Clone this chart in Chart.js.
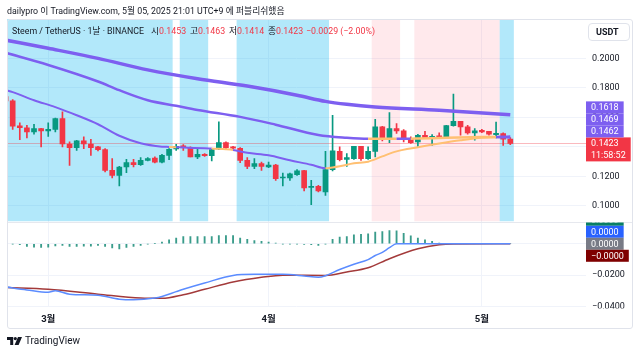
<!DOCTYPE html>
<html lang="ko"><head><meta charset="utf-8">
<script src="https://cdn.jsdelivr.net/npm/chart.js@4.4.1/dist/chart.umd.min.js"></script>
<style>
*{box-sizing:border-box}
html,body{margin:0;padding:0;background:#fff;}
body{width:640px;height:355px;overflow:hidden;position:relative;font-family:Roboto,"Noto Sans CJK KR",sans-serif;color:#131722}
canvas{position:absolute;left:0;top:0}
#frame{position:absolute;left:7px;top:19px;width:626px;height:310px;border:1px solid #e0e3eb;border-radius:3px;pointer-events:none}
#hdr{position:absolute;left:7px;top:5px;font-size:8.8px;line-height:12px;white-space:nowrap}
.lg{position:absolute;top:25px;font-size:8.8px;line-height:12px;white-space:nowrap}
.r{color:#f23645}
#usdt{position:absolute;left:588px;top:23px;width:42px;height:18px;border:1px solid #e0e3eb;border-radius:4px;background:#fff;font-size:9px;font-weight:700;line-height:16px;padding-left:7px}
#logo{position:absolute;left:7px;top:335px;font-size:10px;line-height:12px;display:flex;align-items:center;gap:3px;color:#131722}
</style></head><body>
<canvas id="c" width="640" height="355"></canvas>
<div id="frame"></div>
<div id="hdr">dailypro 이 TradingView.com, 5월 05, 2025 21:01 UTC+9 에 퍼블리쉬했음</div>
<div class="lg" style="left:12px">Steem / TetherUS · 1날 · BINANCE</div>
<div class="lg" id="lgO" style="left:151px"></div>
<div class="lg" id="lgH" style="left:190px"></div>
<div class="lg" id="lgL" style="left:229px"></div>
<div class="lg" id="lgC" style="left:268px"></div>
<div class="lg r" id="lgChg" style="left:306px"></div>
<div id="usdt">USDT</div>
<div id="logo"><svg width="15" height="8" viewBox="0 0 15 8"><path d="M0 0h6.2v8H3.2V3H0z" fill="#131722"/><circle cx="8.3" cy="1.6" r="1.6" fill="#131722"/><path d="M11 0h4l-3.4 8H7.6z" fill="#131722"/></svg><span>TradingView</span></div>
<script>
// ---- data ----
const days = ['02-23','02-24','02-25','02-26','02-27','02-28',
'03-01','03-02','03-03','03-04','03-05','03-06','03-07','03-08','03-09','03-10','03-11','03-12','03-13','03-14','03-15','03-16','03-17','03-18','03-19','03-20','03-21','03-22','03-23','03-24','03-25','03-26','03-27','03-28','03-29','03-30','03-31',
'04-01','04-02','04-03','04-04','04-05','04-06','04-07','04-08','04-09','04-10','04-11','04-12','04-13','04-14','04-15','04-16','04-17','04-18','04-19','04-20','04-21','04-22','04-23','04-24','04-25','04-26','04-27','04-28','04-29','04-30',
'05-01','05-02','05-03','05-04','05-05'];
const open  = [0.1741,0.1712,0.1542,0.1528,0.1501,0.1524,0.1508,0.1517,0.1592,0.1419,0.1394,0.1440,0.1419,0.1399,0.1381,0.1240,0.1206,0.1263,0.1292,0.1279,0.1308,0.1324,0.1295,0.1342,0.1385,0.1406,0.1394,0.1331,0.1349,0.1340,0.1385,0.1428,0.1399,0.1390,0.1308,0.1267,0.1286,0.1263,0.1276,0.1188,0.1188,0.1211,0.1238,0.1125,0.1131,0.1093,0.1245,0.1369,0.1315,0.1320,0.1403,0.1320,0.1369,0.1535,0.1460,0.1524,0.1508,0.1451,0.1433,0.1478,0.1462,0.1471,0.1467,0.1544,0.1573,0.1535,0.1494,0.1512,0.1505,0.1483,0.1490,0.1453];
const high  = [0.1760,0.1720,0.1562,0.1546,0.1553,0.1526,0.1562,0.1594,0.1637,0.1433,0.1444,0.1467,0.1451,0.1403,0.1388,0.1320,0.1267,0.1315,0.1315,0.1326,0.1326,0.1331,0.1349,0.1388,0.1417,0.1415,0.1399,0.1388,0.1354,0.1383,0.1569,0.1433,0.1403,0.1394,0.1326,0.1320,0.1297,0.1297,0.1281,0.1222,0.1222,0.1245,0.1240,0.1172,0.1138,0.1369,0.1614,0.1399,0.1354,0.1403,0.1403,0.1399,0.1587,0.1539,0.1632,0.1558,0.1517,0.1467,0.1485,0.1505,0.1483,0.1494,0.1546,0.1757,0.1573,0.1546,0.1524,0.1519,0.1505,0.1567,0.1494,0.1463];
const low   = [0.1700,0.1517,0.1449,0.1460,0.1485,0.1399,0.1471,0.1500,0.1399,0.1274,0.1376,0.1388,0.1342,0.1372,0.1229,0.1188,0.1134,0.1224,0.1263,0.1274,0.1304,0.1290,0.1290,0.1313,0.1376,0.1376,0.1331,0.1320,0.1335,0.1304,0.1381,0.1388,0.1385,0.1292,0.1251,0.1251,0.1240,0.1258,0.1172,0.1134,0.1172,0.1206,0.1100,0.1007,0.1093,0.1070,0.1236,0.1304,0.1267,0.1315,0.1308,0.1315,0.1331,0.1440,0.1428,0.1490,0.1433,0.1422,0.1403,0.1456,0.1410,0.1456,0.1462,0.1539,0.1478,0.1485,0.1444,0.1496,0.1478,0.1460,0.1410,0.1414];
const close = [0.1712,0.1539,0.1530,0.1501,0.1524,0.1508,0.1519,0.1592,0.1419,0.1394,0.1440,0.1419,0.1394,0.1381,0.1240,0.1206,0.1263,0.1292,0.1279,0.1308,0.1320,0.1295,0.1342,0.1383,0.1403,0.1394,0.1331,0.1349,0.1340,0.1381,0.1428,0.1394,0.1390,0.1308,0.1267,0.1286,0.1267,0.1276,0.1183,0.1195,0.1217,0.1236,0.1120,0.1131,0.1100,0.1245,0.1372,0.1313,0.1326,0.1403,0.1320,0.1369,0.1535,0.1462,0.1524,0.1508,0.1451,0.1428,0.1478,0.1462,0.1471,0.1467,0.1544,0.1573,0.1535,0.1494,0.1508,0.1501,0.1485,0.1492,0.1452,0.1423];

const maSlowDays = ['02-23','03-01','03-08','03-15','03-22','03-29','04-05','04-09','04-12','04-16','04-25','05-05'];
const maSlowVals = [0.2124,0.2068,0.2000,0.1922,0.1862,0.1812,0.1750,0.1708,0.1688,0.1670,0.1648,0.1618];
const maMidDays = ['02-23','03-01','03-08','03-11','03-15','03-19','03-22','03-28','04-02','04-08','04-12','04-15','04-16','04-19','04-20','04-21','04-22','04-26','05-01','05-03','05-04','05-05'];
const maMidVals = [0.2038,0.1955,0.1843,0.1784,0.1716,0.1678,0.1650,0.1603,0.1550,0.1480,0.1461,0.1454,0.1454,0.1455,0.1455,0.1455,0.1456,0.1461,0.1466,0.1467,0.1468,0.1469];
const maFastDays = ['02-23','02-24','02-27','03-02','03-05','03-08','03-11','03-14','03-17','03-18','03-19','03-20','03-23','03-24','03-25','03-26','03-27','03-29','04-01','04-04','04-07','04-09','04-10','04-11','04-13','04-15','04-17','04-19','04-22','04-25','04-28','05-01','05-03','05-04','05-05'];
const maFastVals = [0.1784,0.1771,0.1716,0.1669,0.1614,0.1553,0.1475,0.1424,0.1401,0.1399,0.1397,0.1395,0.1390,0.1388,0.1386,0.1383,0.1378,0.1359,0.1342,0.1308,0.1278,0.1254,0.1260,0.1268,0.1288,0.1299,0.1335,0.1369,0.1397,0.1422,0.1444,0.1461,0.1464,0.1463,0.1462];

const macdDays = ['02-23','02-26','03-01','03-02','03-04','03-08','03-11','03-13','03-16','03-17','03-19','03-20','03-23','03-27','03-30','04-03','04-06','04-08','04-09','04-11','04-13','04-15','04-16','04-17','04-18','04-19','05-05'];
const macdVals = [-0.0275,-0.0294,-0.0309,-0.0300,-0.0321,-0.0328,-0.0353,-0.0357,-0.0346,-0.0336,-0.0305,-0.0290,-0.0250,-0.0202,-0.0195,-0.0195,-0.0205,-0.0214,-0.0204,-0.0164,-0.0130,-0.0101,-0.0075,-0.0055,-0.0025,0,0];
const signalDays = ['02-23','03-01','03-08','03-14','03-17','03-20','03-23','03-27','03-31','04-03','04-09','04-12','04-15','04-18','04-22','04-25','04-27','05-05'];
const signalVals = [-0.0279,-0.0290,-0.0321,-0.0346,-0.0348,-0.0325,-0.0290,-0.0244,-0.0214,-0.0200,-0.0202,-0.0180,-0.0153,-0.0095,-0.0032,-0.0006,-0.0001,-0.00002];
const hist = [0,-0.0002,-0.0006,-0.0017,-0.0021,-0.0023,-0.0021,-0.0013,-0.0011,-0.0017,-0.0017,-0.0015,-0.0015,-0.0011,-0.0017,-0.0027,-0.0032,-0.0023,-0.0017,-0.0011,-0.0002,0.0002,0.0011,0.0025,0.0036,0.0046,0.0046,0.0046,0.0046,0.0046,0.0053,0.0053,0.0053,0.0036,0.0029,0.0021,0.0015,0.0011,0.0004,-0.0002,-0.0002,-0.0002,-0.0004,-0.0006,-0.0011,-0.0002,0.0029,0.0042,0.0046,0.0057,0.0061,0.0063,0.0074,0.0078,0.0084,0.0082,0.0067,0.0050,0.0036,0.0025,0.0015,0.0004,0,0,0,0,0,0,0,0,0,0];

const bandBlue = [['02-23','03-18'],['03-20','03-23'],['03-28','04-09'],['05-04','05-05']];
const bandPink = [['04-16','04-19'],['04-22','05-03']];
const priceTicks = [0.10,0.12,0.14,0.16,0.18,0.20];
const macdTicks = [0,-0.02,-0.04];
const monthTickDays = ['03-01','04-01','05-01'];
const monthTickLabels = ['3월','4월','5월'];
const countdown = '11:58:52';

// ---- styles ----
const UP='#089981', DN='#f23645', PURPLE='#7d5ff0', ORANGE='#ffc072';
const FONT = 'Roboto, "Noto Sans CJK KR", sans-serif';
Chart.defaults.font.family = FONT;

const xOf = d => days.indexOf(d);
const pts = (ds, vs) => ds.map((d,k)=>({x:xOf(d), y:vs[k]}));
const last = days.length-1;
const f4 = v => (v<0?'\u2212':'') + Math.abs(v).toFixed(4);
const candleCol = close.map((c,i)=> c>=open[i] ? UP : DN);

// legend
document.getElementById('lgO').innerHTML = '시<span class="r">'+f4(open[last])+'</span>';
document.getElementById('lgH').innerHTML = '고<span class="r">'+f4(high[last])+'</span>';
document.getElementById('lgL').innerHTML = '저<span class="r">'+f4(low[last])+'</span>';
document.getElementById('lgC').innerHTML = '종<span class="r">'+f4(close[last])+'</span>';
const chg = close[last]-close[last-1];
document.getElementById('lgChg').textContent = f4(chg)+' ('+(chg<0?'\u2212':'')+Math.abs(chg/close[last-1]*100).toFixed(2)+'%)';

function maColor(ctx){ const i=Math.round(ctx.p1.parsed.x); return close[i] > ctx.p1.parsed.y ? ORANGE : PURPLE; }

const LH = 12;
function tag(ctx, x0, yc, lines, bg){
  ctx.font = '9px '+FONT;
  const w = Math.max(...lines.map(t=>ctx.measureText(t).width)) + 10;
  ctx.fillStyle = bg; ctx.fillRect(x0, yc-LH/2, w, LH*lines.length);
  ctx.fillStyle = '#fff'; ctx.textBaseline='middle'; ctx.textAlign='left';
  lines.forEach((t,k)=> ctx.fillText(t, x0+5, yc + k*LH + 0.5));
}

const panes = {
  id:'panes',
  beforeDatasetsDraw(chart){
    const {ctx, chartArea:a, scales:{x,y}} = chart;
    ctx.save();
    ctx.beginPath(); ctx.rect(a.left, y.top, a.right-a.left, y.bottom-y.top); ctx.clip();
    const fill = (arr,col)=>arr.forEach(([d0,d1])=>{
      const x0=x.getPixelForValue(xOf(d0)-0.5), x1=x.getPixelForValue(xOf(d1)+0.5);
      ctx.fillStyle=col; ctx.fillRect(x0,y.top,x1-x0,y.bottom-y.top);
    });
    fill(bandBlue,'rgba(0,180,240,0.30)');
    fill(bandPink,'rgba(255,82,105,0.13)');
    ctx.restore();
    // last price line
    const yy = Math.round(y.getPixelForValue(close[last]))+0.5;
    ctx.save(); ctx.strokeStyle='rgba(242,54,69,0.35)'; ctx.lineWidth=1;
    ctx.beginPath(); ctx.moveTo(a.left,yy); ctx.lineTo(a.right,yy); ctx.stroke(); ctx.restore();
  },
  afterDraw(chart){
    const {ctx, chartArea:a, scales:{y,y2}} = chart;
    ctx.save();
    // pane separator
    ctx.strokeStyle='#e6e8ee'; ctx.lineWidth=1;
    ctx.beginPath(); ctx.moveTo(7, Math.round(y.bottom)+0.5); ctx.lineTo(633, Math.round(y.bottom)+0.5); ctx.stroke();
    // price tags
    const x0 = a.right;
    const yc = y.getPixelForValue(close[last]);
    tag(ctx, x0, yc, [f4(close[last]), countdown], DN);
    let limit = yc - LH/2;
    [maFastVals.at(-1), maMidVals.at(-1), maSlowVals.at(-1)].sort((p,q)=>p-q).forEach(v=>{
      const c = Math.min(y.getPixelForValue(v), limit - LH/2);
      tag(ctx, x0, c, [f4(v)], PURPLE); limit = c - LH/2;
    });
    // lower pane tags
    ctx.save();
    ctx.beginPath(); ctx.rect(x0, y2.top+1, 60, y2.bottom-y2.top); ctx.clip();
    const g = y2.getPixelForValue(hist[last]);
    tag(ctx, x0, g-2*LH, [f4(hist[last])], '#087f64');
    tag(ctx, x0, g-LH, [f4(macdVals.at(-1))], '#2962ff');
    tag(ctx, x0, g, [f4(hist[last])], '#787b86');
    tag(ctx, x0, g+LH, [f4(signalVals.at(-1))], '#7f0000');
    ctx.restore();
    ctx.fillStyle='#fff'; ctx.fillRect(x0+1, y2.bottom+1.5, 45, 20);
    ctx.restore();
  }
};

const lineBase = {type:'line', pointRadius:0, cubicInterpolationMode:'monotone', order:0, fill:false};

new Chart(document.getElementById('c'), {
  type:'bar',
  data:{ datasets:[
    {type:'bar', data: days.map((d,i)=>({x:i, y:[low[i],high[i]]})), backgroundColor:candleCol, barThickness:1, grouped:false, order:3, yAxisID:'y', minBarLength:1},
    {type:'bar', data: days.map((d,i)=>({x:i, y:[open[i],close[i]]})), backgroundColor:candleCol, barThickness:5, grouped:false, order:2, yAxisID:'y', minBarLength:1},
    {...lineBase, data: pts(maSlowDays, maSlowVals), borderColor:PURPLE, borderWidth:3.5, yAxisID:'y'},
    {...lineBase, data: pts(maMidDays, maMidVals), borderColor:PURPLE, segment:{borderColor:maColor}, borderWidth:2.5, yAxisID:'y'},
    {...lineBase, data: pts(maFastDays, maFastVals), borderColor:PURPLE, segment:{borderColor:maColor}, borderWidth:2, yAxisID:'y'},
    {type:'bar', data: days.map((d,i)=>({x:i, y:hist[i]})), backgroundColor:'#3a9c8b', barThickness:1.2, grouped:false, order:3, yAxisID:'y2'},
    {...lineBase, data: pts(macdDays, macdVals), borderColor:'#5b8cff', borderWidth:1.5, yAxisID:'y2'},
    {...lineBase, data: pts(signalDays, signalVals), borderColor:'#a33a3a', borderWidth:1.5, yAxisID:'y2'}
  ]},
  options:{
    responsive:false, animation:false, devicePixelRatio:1, events:[],
    layout:{padding:{left:7, right:7, top:19, bottom:26}},
    plugins:{legend:{display:false}, tooltip:{enabled:false}},
    scales:{
      x:{type:'linear', min:0.2, max:81.65, offset:false,
        afterBuildTicks(s){ s.ticks = monthTickDays.map(d=>({value:xOf(d)})); },
        afterFit(s){ s.height = 22; },
        ticks:{autoSkip:false, maxRotation:0, padding:7, color:'#131722', font:{size:9.5, weight:'bold'},
          callback:(v)=>{ const k = monthTickDays.map(xOf).indexOf(v); return k<0?'':monthTickLabels[k]; }},
        grid:{color:'#f0f3fa', drawTicks:false, offset:false}, border:{display:false}},
      y:{position:'right', stack:'pane', stackWeight:202.5, min:0.0893, max:0.2267,
        afterBuildTicks(s){ s.ticks = priceTicks.map(v=>({value:v})); },
        afterFit(s){ s.width = 47; },
        ticks:{padding:6, color:'#131722', font:{size:9}, callback:v=>f4(v)},
        grid:{color:'#f0f3fa', drawTicks:false}, border:{display:false}},
      y2:{position:'right', stack:'pane', stackWeight:85.5, min:-0.0403, max:0.0142,
        afterBuildTicks(s){ s.ticks = macdTicks.map(v=>({value:v})); },
        afterFit(s){ s.width = 47; },
        ticks:{padding:6, color:'#131722', font:{size:9}, callback:v=>f4(v)},
        grid:{color:'#f0f3fa', drawTicks:false}, border:{display:false}}
    }
  },
  plugins:[panes]
});
</script>
</body></html>
